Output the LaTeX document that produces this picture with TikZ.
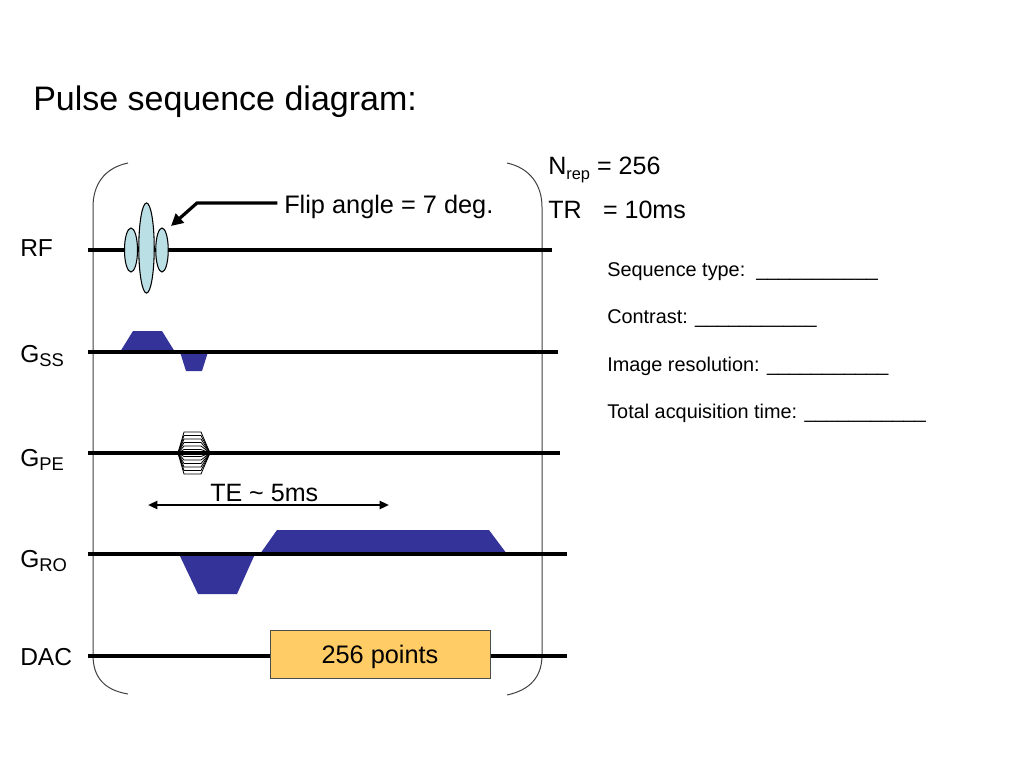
\documentclass[tikz,border=0pt]{standalone}
\usepackage{fontspec}
\setmainfont{Liberation Sans}
\usetikzlibrary{arrows.meta}
\definecolor{gblue}{RGB}{51,51,153}
\definecolor{rfblue}{RGB}{186,224,230}
\definecolor{dacfill}{RGB}{255,204,102}
\newcommand\lsub[1]{\raisebox{-3.6pt}{\fontsize{13.8}{14}\selectfont #1}}
\newcommand\nsub[1]{\raisebox{-3.8pt}{\fontsize{12.3}{13}\selectfont #1}}
\newcommand\blankline{\_\_\_\_\_\_\_\_\_\_\_}
\begin{document}
\begin{tikzpicture}[x=0.75pt,y=-0.75pt,
  axis/.style={line width=2.4pt},
  bracket/.style={line width=0.75pt, draw=black!75},
  grad/.style={fill=gblue, draw=none},
  lobe/.style={fill=rfblue, draw=black, line width=0.8pt},
  lbl/.style={anchor=base west, inner sep=0pt, font=\fontsize{18.4}{20}\selectfont},
  big/.style={anchor=base west, inner sep=0pt, font=\fontsize{18.8}{21}\selectfont},
  small/.style={anchor=base west, inner sep=0pt, font=\fontsize{14.9}{17}\selectfont},
  blip/.style={draw=black, line width=0.6pt},
]
\fill[white] (0,0) rectangle (1024,768);
\useasboundingbox (0,0) rectangle (1024,768);

% title
\node[anchor=base west, inner sep=0pt, font=\fontsize{25.5}{28}\selectfont] (title) at (33,110) {Pulse sequence diagram:};

% brackets
\draw[bracket] (128,163) .. controls (104,168) and (93,185) .. (93,207) -- (93,655) .. controls (93,677) and (104,690) .. (128,694);
\draw[bracket] (507,163) .. controls (530,168) and (542,185) .. (542,207) -- (542,655) .. controls (542,677) and (530,690) .. (507,695);

% axis coordinates
\coordinate (rfL) at (88,250);  \coordinate (rfR) at (552,250);
\coordinate (ssL) at (88,352);  \coordinate (ssR) at (558,352);
\coordinate (peL) at (88,453);  \coordinate (peR) at (560,453);
\coordinate (roL) at (88,554);  \coordinate (roR) at (567,554);
\coordinate (dacL) at (88,656); \coordinate (dacR) at (567,656);

% gradient lobes
\fill[grad] (120,352) -- (133,331) -- (162,331) -- (175,352) -- cycle;
\fill[grad] (180,352) -- (186,371) -- (202,371) -- (208,352) -- cycle;
\fill[grad] (179,554) -- (198,594) -- (237,594) -- (255,554) -- cycle;
\fill[grad] (260,554) -- (277,530) -- (489,530) -- (507,554) -- cycle;

% axes
\draw[axis] (rfL) -- (rfR);
\draw[axis] (ssL) -- (ssR);
\draw[axis] (peL) -- (peR);
\draw[axis] (roL) -- (roR);
\draw[axis] (dacL) -- (dacR);

% RF pulse
\draw[lobe] (131,250) ellipse [x radius=4.9pt, y radius=16.5pt];
\draw[lobe] (162,250) ellipse [x radius=4.7pt, y radius=16.5pt];
\draw[lobe] (146.5,248) ellipse [x radius=5.8pt, y radius=33.8pt];

% phase encode blip table
\fill[white] (178,453) -- (184,432) -- (201,432) -- (210,453) -- (201,474) -- (184,474) -- cycle;
\foreach \h in {21,17.5,14,10.5,7,3.5}{
  \draw[blip] (178,453) -- (184,{453-\h}) -- (201,{453-\h}) -- (210,453);
  \draw[blip] (178,453) -- (184,{453+\h}) -- (201,{453+\h}) -- (210,453);
}
\draw[line width=3pt] (178,453) -- (210,453);

% DAC window
\node[draw=black!70, line width=0.7pt, fill=dacfill, minimum width=165pt, minimum height=36pt, inner sep=0pt] (dacbox) at (380,654) {};
\node[anchor=base, inner sep=0pt, font=\fontsize{19}{21}\selectfont] (dactext) at (380,663) {256 points};

% channel labels
\node[lbl] (lrf) at (20,256) {RF};
\node[lbl] (lss) at (20,362) {G\lsub{SS}};
\node[lbl] (lpe) at (20,466) {G\lsub{PE}};
\node[lbl] (lro) at (20,567) {G\lsub{RO}};
\node[lbl] (ldac) at (20,665) {DAC};

% flip angle
\node[anchor=base west, inner sep=0pt, font=\fontsize{19}{21}\selectfont] (flip) at (284,213) {Flip angle = 7 deg.};
\coordinate (elbow) at (197,203);
\coordinate (tip) at (171,226);
\draw[line width=2.4pt, -{Triangle[length=9pt,width=9pt]}] ([xshift=-5pt]flip.west |- elbow) -- (elbow) -- (tip);

% TE
\coordinate (teL) at (148,505);
\coordinate (teR) at (389,505);
\draw[line width=1.6pt, {Triangle[length=7pt,width=6pt]}-{Triangle[length=7pt,width=6pt]}] (teL) -- (teR);
\node[big] (te) at (210,501) {TE \textasciitilde{} 5ms};

% parameters
\node[big] (nrep) at (548,174) {N\nsub{rep} = 256};
\node[big] (tr) at (548,218) {TR\hspace{16pt}= 10ms};

% questions
\node[small] (q1) at (607,276) {Sequence type:\ \ \blankline};
\node[small] (q2) at (607,323) {Contrast: \blankline};
\node[small] (q3) at (607,371) {Image resolution: \blankline};
\node[small] (q4) at (607,418) {Total acquisition time: \blankline};
\end{tikzpicture}
\end{document}
